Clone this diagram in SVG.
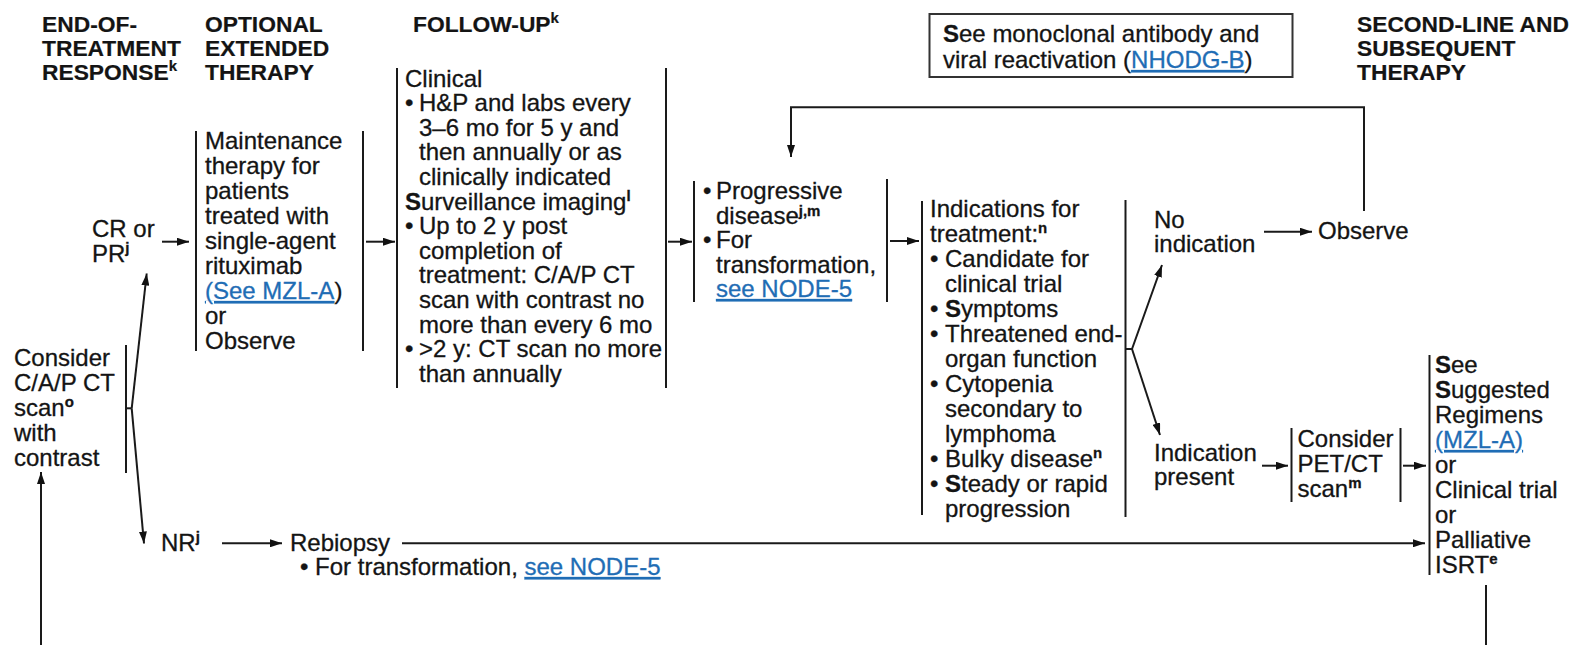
<svg xmlns="http://www.w3.org/2000/svg" width="1580" height="645" viewBox="0 0 1580 645">
  <style>
    text { font-family: "Liberation Sans", Arial, sans-serif; font-size: 24px; fill: #141414; stroke: #141414; stroke-width: 0.3; }
    .h { font-weight: bold; font-size: 22.8px; stroke-width: 0.2; }
    .b { font-weight: bold; }
    .sup { font-size: 15px; font-weight: bold; }
    .link { fill: #1f6db5; stroke: #1f6db5; text-decoration: underline; }
    .br { stroke: #1a1a1a; stroke-width: 2; fill: none; }
    .cn { stroke: #1a1a1a; stroke-width: 2; fill: none; }
    .arr { marker-end: url(#ah); }
  </style>
  <defs>
    <marker id="ah" viewBox="0 0 12 8" refX="12" refY="4" markerWidth="12" markerHeight="8" markerUnits="userSpaceOnUse" orient="auto">
      <path d="M0,0 L12,4 L0,8 z" fill="#111"/>
    </marker>
  </defs>
  <rect width="1580" height="645" fill="#fff"/>

  <!-- column headings -->
  <g id="headings">
    <text class="h" x="42" y="32">END-OF-</text>
    <text class="h" x="42" y="56">TREATMENT</text>
    <text class="h" x="42" y="80">RESPONSE<tspan class="sup" dy="-9">k</tspan></text>
    <text class="h" x="205" y="32">OPTIONAL</text>
    <text class="h" x="205" y="56">EXTENDED</text>
    <text class="h" x="205" y="80">THERAPY</text>
    <text class="h" x="413" y="32">FOLLOW-UP<tspan class="sup" dy="-9">k</tspan></text>
    <text class="h" x="1357" y="32">SECOND-LINE AND</text>
    <text class="h" x="1357" y="56">SUBSEQUENT</text>
    <text class="h" x="1357" y="80">THERAPY</text>
  </g>

  <!-- reference note box -->
  <g id="note">
    <rect x="929.5" y="14" width="363" height="63" fill="none" stroke="#333" stroke-width="2"/>
    <text x="943" y="42"><tspan class="b">S</tspan>ee monoclonal antibody and</text>
    <text x="943" y="68">viral reactivation (<tspan class="link">NHODG-B</tspan>)</text>
  </g>

  <g id="consider-ct">
    <text x="14" y="366">Consider</text>
    <text x="14" y="391">C/A/P CT</text>
    <text x="14" y="416">scan<tspan class="sup" dy="-9">o</tspan></text>
    <text x="14" y="441">with</text>
    <text x="14" y="466">contrast</text>
    <line class="br" x1="126" y1="345" x2="126" y2="473"/>
  </g>

  <g id="cr-pr">
    <text x="92" y="237">CR or</text>
    <text x="92" y="262">PR<tspan class="sup" dy="-9">j</tspan></text>
  </g>

  <g id="nr">
    <text x="161" y="551">NR<tspan class="sup" dy="-9">j</tspan></text>
  </g>

  <g id="rebiopsy">
    <text x="290" y="551">Rebiopsy</text>
    <text x="300" y="575">• For transformation, <tspan class="link">see NODE-5</tspan></text>
  </g>

  <g id="maintenance">
    <line class="br" x1="196" y1="131" x2="196" y2="351"/>
    <line class="br" x1="363" y1="131" x2="363" y2="351"/>
    <text x="205" y="149">Maintenance</text>
    <text x="205" y="174">therapy for</text>
    <text x="205" y="199">patients</text>
    <text x="205" y="224">treated with</text>
    <text x="205" y="249">single-agent</text>
    <text x="205" y="274">rituximab</text>
    <text x="205" y="299"><tspan class="link">(See MZL-A</tspan>)</text>
    <text x="205" y="324">or</text>
    <text x="205" y="349">Observe</text>
  </g>

  <g id="follow-up">
    <line class="br" x1="397" y1="68" x2="397" y2="388"/>
    <line class="br" x1="666" y1="68" x2="666" y2="388"/>
    <text x="405" y="86.5">Clinical</text>
    <text x="405" y="111.1">•</text><text x="419" y="111.1">H&amp;P and labs every</text>
    <text x="419" y="135.7">3–6 mo for 5 y and</text>
    <text x="419" y="160.3">then annually or as</text>
    <text x="419" y="184.9">clinically indicated</text>
    <text x="405" y="209.5"><tspan class="b">S</tspan>urveillance imaging<tspan class="sup" dy="-9">l</tspan></text>
    <text x="405" y="234.1">•</text><text x="419" y="234.1">Up to 2 y post</text>
    <text x="419" y="258.7">completion of</text>
    <text x="419" y="283.3">treatment: C/A/P CT</text>
    <text x="419" y="307.9">scan with contrast no</text>
    <text x="419" y="332.5">more than every 6 mo</text>
    <text x="405" y="357.1">•</text><text x="419" y="357.1">&gt;2 y: CT scan no more</text>
    <text x="419" y="381.7">than annually</text>
  </g>

  <g id="progressive">
    <line class="br" x1="694" y1="181" x2="694" y2="302"/>
    <line class="br" x1="887" y1="179" x2="887" y2="302"/>
    <text x="703" y="199">•</text><text x="716" y="199">Progressive</text>
    <text x="716" y="223.5">disease<tspan class="sup" dy="-8">j,m</tspan></text>
    <text x="703" y="248">•</text><text x="716" y="248">For</text>
    <text x="716" y="272.5">transformation,</text>
    <text x="716" y="297"><tspan class="link">see NODE-5</tspan></text>
  </g>

  <g id="indications">
    <line class="br" x1="922" y1="201" x2="922" y2="515"/>
    <line class="br" x1="1125.5" y1="200" x2="1125.5" y2="517"/>
    <text x="930" y="216.7">Indications for</text>
    <text x="930" y="241.7">treatment:<tspan class="sup" dy="-9">n</tspan></text>
    <text x="930" y="266.7">•</text><text x="945" y="266.7">Candidate for</text>
    <text x="945" y="291.7">clinical trial</text>
    <text x="930" y="316.7">•</text><text x="945" y="316.7"><tspan class="b">S</tspan>ymptoms</text>
    <text x="930" y="341.7">•</text><text x="945" y="341.7">Threatened end-</text>
    <text x="945" y="366.7">organ function</text>
    <text x="930" y="391.7">•</text><text x="945" y="391.7">Cytopenia</text>
    <text x="945" y="416.7">secondary to</text>
    <text x="945" y="441.7">lymphoma</text>
    <text x="930" y="466.7">•</text><text x="945" y="466.7">Bulky disease<tspan class="sup" dy="-9">n</tspan></text>
    <text x="930" y="491.7">•</text><text x="945" y="491.7"><tspan class="b">S</tspan>teady or rapid</text>
    <text x="945" y="516.7">progression</text>
  </g>

  <g id="no-indication">
    <text x="1154" y="228">No</text>
    <text x="1154" y="252">indication</text>
  </g>

  <g id="observe">
    <text x="1318" y="239">Observe</text>
  </g>

  <g id="indication-present">
    <text x="1154" y="461">Indication</text>
    <text x="1154" y="485">present</text>
  </g>

  <g id="pet-ct">
    <line class="br" x1="1291.5" y1="428" x2="1291.5" y2="502"/>
    <line class="br" x1="1400.5" y1="428" x2="1400.5" y2="502"/>
    <text x="1297.5" y="447.3">Consider</text>
    <text x="1297.5" y="471.7">PET/CT</text>
    <text x="1297.5" y="496.7">scan<tspan class="sup" dy="-9">m</tspan></text>
  </g>

  <g id="second-line">
    <line class="br" x1="1429.5" y1="355" x2="1429.5" y2="575"/>
    <text x="1435" y="373.3"><tspan class="b">S</tspan>ee</text>
    <text x="1435" y="398.2"><tspan class="b">S</tspan>uggested</text>
    <text x="1435" y="423.1">Regimens</text>
    <text x="1435" y="448"><tspan class="link">(MZL-A)</tspan></text>
    <text x="1435" y="472.9">or</text>
    <text x="1435" y="497.8">Clinical trial</text>
    <text x="1435" y="522.7">or</text>
    <text x="1435" y="547.6">Palliative</text>
    <text x="1435" y="572.5">ISRT<tspan class="sup" dy="-9">e</tspan></text>
  </g>

  <!-- connectors -->
  <g id="connectors">
    <path class="cn arr" d="M131.7,408.3 L146.7,273.5"/>
    <path class="cn arr" d="M131.7,408.3 L144,543.5"/>
    <path class="cn" d="M126,408.3 L131.7,408.3"/>
    <path class="cn arr" d="M41,645 L41,472"/>
    <path class="cn arr" d="M162,241.7 L189,241.7"/>
    <path class="cn arr" d="M366,241.7 L395,241.7"/>
    <path class="cn arr" d="M668,241.7 L692,241.7"/>
    <path class="cn arr" d="M890,241 L919,241"/>
    <path class="cn arr" d="M1364,211 L1364,107.3 L791,107.3 L791,157"/>
    <path class="cn arr" d="M1125.5,349 L1132,349 L1162,265"/>
    <path class="cn arr" d="M1132,349 L1160,435"/>
    <path class="cn arr" d="M1264,231.7 L1312,231.7"/>
    <path class="cn arr" d="M1262,465.7 L1288,465.7"/>
    <path class="cn arr" d="M1403,465.7 L1426,465.7"/>
    <path class="cn arr" d="M222,543.3 L282,543.3"/>
    <path class="cn arr" d="M402,543.3 L1425,543.3"/>
    <path class="cn" d="M1486,585 L1486,645"/>
  </g>
</svg>
